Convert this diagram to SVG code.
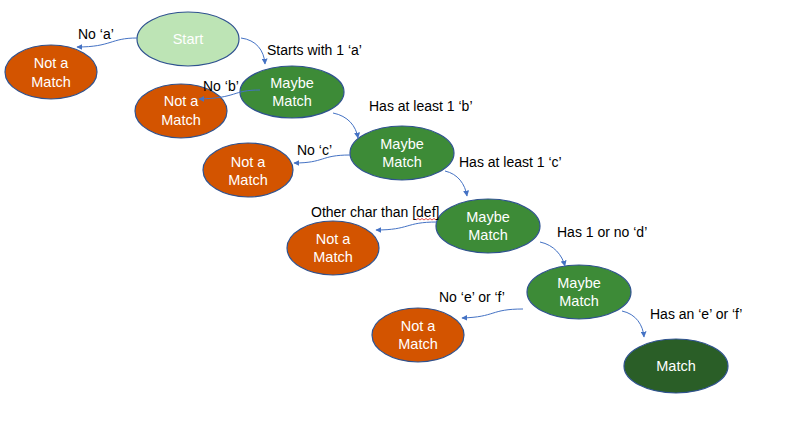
<svg xmlns="http://www.w3.org/2000/svg" width="787" height="438" viewBox="0 0 787 438">
<defs>
<marker id="arr" viewBox="0 0 10 10" refX="9" refY="5" markerWidth="6" markerHeight="6" orient="auto" markerUnits="userSpaceOnUse">
<path d="M0,0 L10,5 L0,10 z" fill="#4472C4"/>
</marker>
<style>
.n ellipse{stroke:#2F528F;stroke-width:1.2}
.start{fill:#BDE4B5}
.no{fill:#D35400}
.maybe{fill:#3D8B37}
.match{fill:#2A5E27}
.t{font-family:"Liberation Sans",Arial,sans-serif;font-size:14.5px;fill:#fff;text-anchor:middle}
.l{font-family:"Liberation Sans",Arial,sans-serif;font-size:14px;fill:#000}
.c path{fill:none;stroke:#4472C4;stroke-width:1;marker-end:url(#arr)}
</style>
</defs>
<rect width="787" height="438" fill="#fff"/>
<g id="start" class="n"><ellipse class="start" cx="188" cy="39" rx="51" ry="27"/><text class="t" x="188" y="44">Start</text></g>
<g id="nm1" class="n"><ellipse class="no" cx="51" cy="72" rx="46" ry="27"/><text class="t" x="51" y="68">Not a</text><text class="t" x="51" y="87">Match</text></g>
<g id="m1" class="n"><ellipse class="maybe" cx="292" cy="92" rx="52" ry="26"/><text class="t" x="292" y="88">Maybe</text><text class="t" x="292" y="106">Match</text></g>
<g id="nm2" class="n"><ellipse class="no" cx="181" cy="111" rx="46" ry="27"/><text class="t" x="181" y="106">Not a</text><text class="t" x="181" y="125">Match</text></g>
<g id="m2" class="n"><ellipse class="maybe" cx="402" cy="153" rx="52" ry="27"/><text class="t" x="402" y="149">Maybe</text><text class="t" x="402" y="167">Match</text></g>
<g id="nm3" class="n"><ellipse class="no" cx="248" cy="170" rx="45" ry="27"/><text class="t" x="248" y="167">Not a</text><text class="t" x="248" y="185">Match</text></g>
<g id="m3" class="n"><ellipse class="maybe" cx="488" cy="226" rx="52" ry="27"/><text class="t" x="488" y="222">Maybe</text><text class="t" x="488" y="240">Match</text></g>
<g id="nm4" class="n"><ellipse class="no" cx="333" cy="248" rx="46" ry="27"/><text class="t" x="333" y="244">Not a</text><text class="t" x="333" y="262">Match</text></g>
<g id="m4" class="n"><ellipse class="maybe" cx="579" cy="292" rx="52" ry="27"/><text class="t" x="579" y="288">Maybe</text><text class="t" x="579" y="306">Match</text></g>
<g id="nm5" class="n"><ellipse class="no" cx="418" cy="335" rx="46" ry="27"/><text class="t" x="418" y="331">Not a</text><text class="t" x="418" y="349">Match</text></g>
<g id="match" class="n"><ellipse class="match" cx="676" cy="366" rx="52" ry="27"/><text class="t" x="676" y="371">Match</text></g>
<g id="connectors" class="c">
<path d="M137,38 C110,38 112,47 77,47"/>
<path d="M241,38 C256,40 264,50 265,64"/>
<path d="M260,90 C232,90 238,98 199,99"/>
<path d="M333,113 C348,116 356,126 358,138"/>
<path d="M350,155 C320,155 325,163 294,163"/>
<path d="M445,171 C458,174 465,184 467,196"/>
<path d="M437,222 C405,222 410,230 376,230"/>
<path d="M540,242 C554,245 562,255 565,266"/>
<path d="M523,309 C490,309 496,317 462,318"/>
<path d="M622,311 C636,314 643,325 644,337"/>
</g>
<g id="labels">
<text class="l" x="78" y="39">No ‘a’</text>
<text class="l" x="267" y="55">Starts with 1 ‘a’</text>
<text class="l" x="203" y="91">No ‘b’</text>
<text class="l" x="369" y="111">Has at least 1 ‘b’</text>
<text class="l" x="297" y="155">No ‘c’</text>
<text class="l" x="459" y="167">Has at least 1 ‘c’</text>
<text class="l" x="311" y="217">Other char than [def]</text>
<path d="M416,220 l2,-1.5 l2,1.5 l2,-1.5 l2,1.5 l2,-1.5 l2,1.5 l2,-1.5 l2,1.5 l2,-1.5 l2,1.5" fill="none" stroke="#E0201B" stroke-width="0.8"/>
<text class="l" x="557" y="237">Has 1 or no ‘d’</text>
<text class="l" x="439" y="302">No ‘e’ or ‘f’</text>
<text class="l" x="650" y="319">Has an ‘e’ or ‘f’</text>
</g>
</svg>
